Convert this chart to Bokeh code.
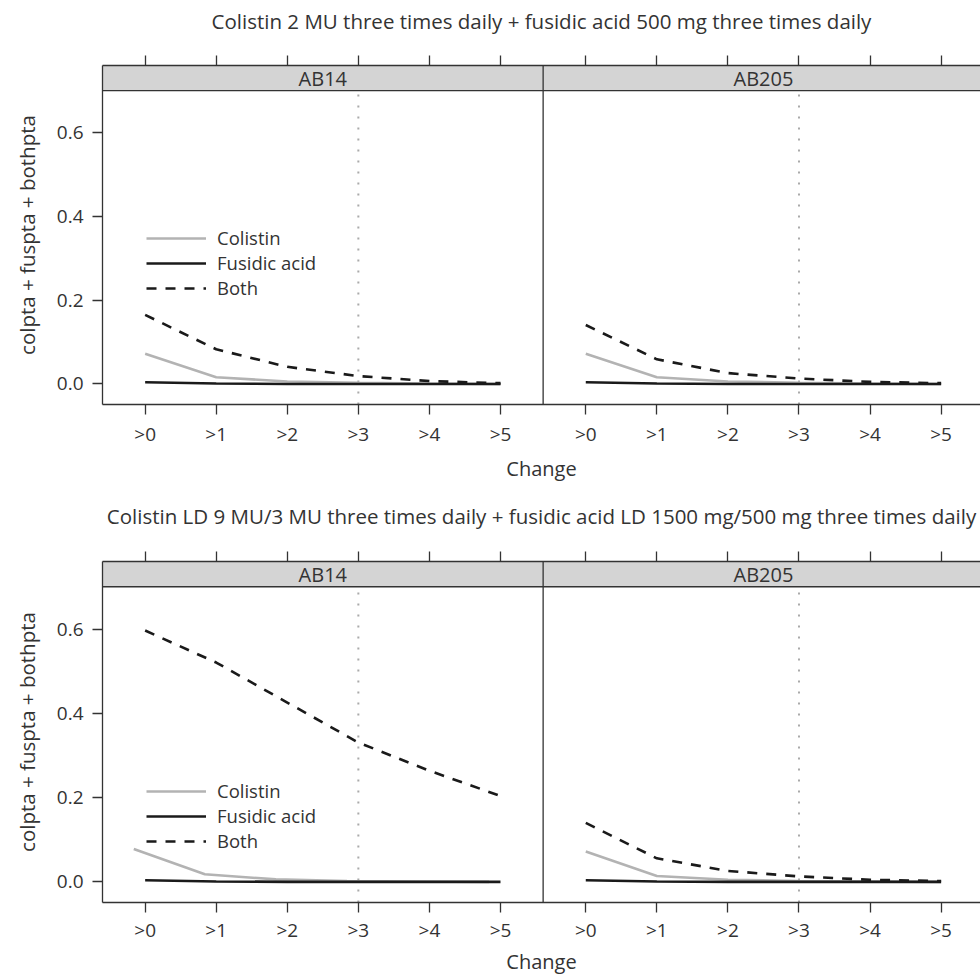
from bokeh.plotting import figure
from bokeh.models import (ColumnDataSource, FixedTicker, LinearAxis, Range1d,
                          Legend, LegendItem, NumeralTickFormatter, Span,
                          CustomLabelingPolicy)
from bokeh.layouts import column
from bokeh.embed import file_html
from bokeh.resources import INLINE
from bokeh.core.properties import value

# ---------------- data ----------------
CHANGE_X = [0, 1, 2, 3, 4, 5]
CHANGE_LABELS = [">0", ">1", ">2", ">3", ">4", ">5"]
ISOLATES = ["AB14", "AB205"]
SERIES = ["Colistin", "Fusidic acid", "Both"]
REGIMENS = [
    "Colistin 2 MU three times daily + fusidic acid 500 mg three times daily",
    "Colistin LD 9 MU/3 MU three times daily + fusidic acid LD 1500 mg/500 mg three times daily",
]
Y_TICKS = [0.0, 0.2, 0.4, 0.6]
THRESHOLD = 3
X_LABEL = "Change"
Y_LABEL = "colpta + fuspta + bothpta"

# regimen 1
r1_ab14_col = [0.072, 0.016, 0.006, 0.003, 0.001, 0.000]
r1_ab14_fus = [0.004, 0.001, 0.000, 0.000, 0.000, 0.000]
r1_ab14_both = [0.165, 0.083, 0.041, 0.019, 0.007, 0.002]
r1_ab205_col = [0.072, 0.016, 0.006, 0.003, 0.001, 0.000]
r1_ab205_fus = [0.004, 0.001, 0.000, 0.000, 0.000, 0.000]
r1_ab205_both = [0.141, 0.059, 0.026, 0.013, 0.005, 0.002]
# regimen 2
r2_ab14_col = [0.078, 0.018, 0.006, 0.002, 0.001, 0.000]
r2_ab14_fus = [0.004, 0.001, 0.000, 0.000, 0.000, 0.000]
r2_ab14_both = [0.597, 0.521, 0.426, 0.331, 0.264, 0.204]
r2_ab205_col = [0.072, 0.014, 0.005, 0.002, 0.001, 0.000]
r2_ab205_fus = [0.004, 0.001, 0.000, 0.000, 0.000, 0.000]
r2_ab205_both = [0.140, 0.056, 0.026, 0.013, 0.005, 0.002]
# small horizontal jitter seen on the colistin curve of regimen 2 / AB14
r2_ab14_col_shift = -0.16

# ---------------- style ----------------
FONT = "Open Sans"
TXT = "#333333"
AXC = "#333333"
X_LO, X_HI = -0.6, 5.6
PANEL_W = X_HI - X_LO
Y_LO, Y_STRIP, Y_HI = -0.049, 0.701, 0.761
FRAME_LEFT = 102
FIG_W = 980
PX_PER_UNIT = 71.07
SERIES_STYLE = {
    "Colistin": dict(line_color="#b3b3b3", line_width=2.6, line_dash="solid"),
    "Fusidic acid": dict(line_color="#1a1a1a", line_width=2.6, line_dash="solid"),
    "Both": dict(line_color="#1a1a1a", line_width=2.6, line_dash="10 9"),
}
HIDE_LABELS = CustomLabelingPolicy(
    code="for (const i of Array.from(indices)) { indices.set(i, false) }\nreturn indices")


def style_axis(ax):
    ax.axis_line_color = AXC
    ax.axis_line_width = 1.3
    ax.major_tick_line_color = AXC
    ax.major_tick_line_width = 1.3
    ax.major_tick_out = 10
    ax.major_tick_in = 0
    ax.minor_tick_out = 0
    ax.minor_tick_in = 0
    ax.major_label_text_font = FONT
    ax.major_label_text_color = TXT
    ax.major_label_text_font_size = "19px"
    ax.axis_label_text_font = FONT
    ax.axis_label_text_font_style = "normal"
    ax.axis_label_text_color = TXT
    ax.axis_label_text_font_size = "20px"


def make_row(title, panels, legend_loc, height, btop, bbottom, title_standoff,
             tick_standoff, label_standoff):
    p = figure(width=FIG_W, height=height,
               x_range=Range1d(X_LO, X_LO + (FIG_W - FRAME_LEFT) / PX_PER_UNIT),
               y_range=Range1d(Y_LO, Y_HI),
               x_axis_type=None, y_axis_type=None,
               output_backend="svg", toolbar_location=None,
               min_border_left=FRAME_LEFT, min_border_right=0,
               min_border_top=btop, min_border_bottom=bbottom,
               outline_line_color=None, background_fill_color="white")
    p.title.text = title
    p.title.align = "center"
    p.title.text_font = FONT
    p.title.text_font_style = "normal"
    p.title.text_font_size = "20.5px"
    p.title.text_color = TXT
    p.title.standoff = title_standoff

    # strips
    p.quad(left=[X_LO + i * PANEL_W for i in range(len(ISOLATES))],
           right=[X_HI + i * PANEL_W for i in range(len(ISOLATES))],
           bottom=Y_STRIP, top=Y_HI, fill_color="#d4d4d4", line_color=None)
    p.text(x=[(X_LO + X_HI) / 2 + i * PANEL_W for i in range(len(ISOLATES))],
           y=[(Y_STRIP + Y_HI) / 2] * len(ISOLATES), text=ISOLATES,
           text_align="center", text_baseline="middle",
           text_font=value(FONT), text_font_size="20px", text_color=TXT)

    ticks = []
    overrides = {}
    for i in range(len(ISOLATES)):
        for x, lab in zip(CHANGE_X, CHANGE_LABELS):
            t = x + i * PANEL_W
            ticks.append(t)
            overrides[t] = lab

    bottom = LinearAxis(ticker=FixedTicker(ticks=ticks), major_label_overrides=overrides,
                        axis_label=X_LABEL)
    style_axis(bottom)
    bottom.major_label_standoff = tick_standoff
    bottom.axis_label_standoff = label_standoff
    p.add_layout(bottom, "below")

    top = LinearAxis(ticker=FixedTicker(ticks=ticks), major_label_policy=HIDE_LABELS)
    style_axis(top)
    top.major_label_standoff = 0
    p.add_layout(top, "above")

    left = LinearAxis(ticker=FixedTicker(ticks=Y_TICKS), formatter=NumeralTickFormatter(format="0.0"),
                      axis_label=Y_LABEL)
    style_axis(left)
    left.axis_label_text_font_size = "20.5px"
    left.major_label_standoff = 9
    left.axis_label_standoff = 13
    p.add_layout(left, "left")

    p.add_layout(Span(location=X_HI, dimension="height", line_color=AXC, line_width=1.3))
    p.add_layout(Span(location=Y_STRIP, dimension="width", line_color=AXC, line_width=1.3))

    legend_renderers = {}
    for i, (series_vals, shifts) in enumerate(panels):
        off = i * PANEL_W
        # reference line at change > 3
        p.line(x=[THRESHOLD + off, THRESHOLD + off], y=[Y_LO, Y_STRIP],
               line_color="#aaaaaa", line_width=2, line_dash="2 9")
        for name, vals in zip(SERIES, series_vals):
            sh = shifts.get(name, 0.0)
            src = ColumnDataSource(dict(x=[x + off + sh for x in CHANGE_X], y=vals))
            r = p.line("x", "y", source=src, **SERIES_STYLE[name])
            if i == 0:
                legend_renderers[name] = r

    legend = Legend(items=[LegendItem(label=n, renderers=[legend_renderers[n]]) for n in SERIES],
                    location=legend_loc, glyph_width=60, glyph_height=20, label_height=20,
                    spacing=0, padding=0, margin=0, label_standoff=11,
                    border_line_color=None, background_fill_alpha=0,
                    label_text_font=FONT, label_text_font_size="18.5px", label_text_color=TXT)
    p.add_layout(legend)
    return p


p1 = make_row(REGIMENS[0],
              [((r1_ab14_col, r1_ab14_fus, r1_ab14_both), {}),
               ((r1_ab205_col, r1_ab205_fus, r1_ab205_both), {})],
              legend_loc=(44, 104), height=484, btop=64, bbottom=80, title_standoff=9,
              tick_standoff=6, label_standoff=5)
p2 = make_row(REGIMENS[1],
              [((r2_ab14_col, r2_ab14_fus, r2_ab14_both), {"Colistin": r2_ab14_col_shift}),
               ((r2_ab205_col, r2_ab205_fus, r2_ab205_both), {})],
              legend_loc=(44, 49), height=493, btop=77, bbottom=75, title_standoff=11,
              tick_standoff=4, label_standoff=2)

layout = column(p1, p2, spacing=0)
open("out.html", "w").write(file_html(layout, INLINE))
